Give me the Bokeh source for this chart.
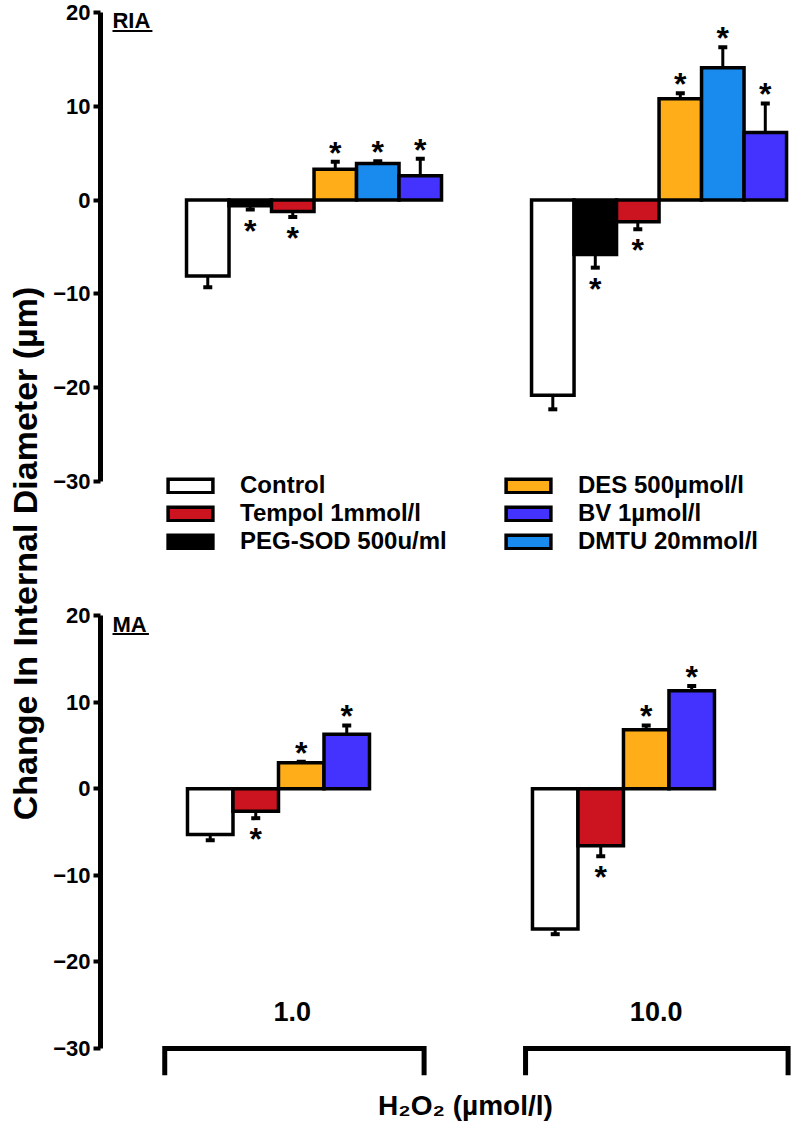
import math
from bokeh.plotting import figure
from bokeh.models import (Range1d, FixedTicker, Legend, LegendItem, Label,
                          BoxAnnotation, ColumnDataSource)
from bokeh.layouts import row, column
from bokeh.embed import file_html
from bokeh.resources import INLINE
from bokeh.core.properties import value

# ---------------- data ----------------
doses = ["1.0", "10.0"]

ria_treatments = ["Control", "PEG-SOD 500u/ml", "Tempol 1mmol/l",
                  "DES 500µmol/l", "DMTU 20mmol/l", "BV 1µmol/l"]
ria_mean_1 = [-8.1, -0.6, -1.2, 3.3, 3.9, 2.6]
ria_sem_1 = [1.2, 0.4, 0.6, 0.8, 0.25, 1.8]
ria_mean_10 = [-20.8, -5.8, -2.3, 10.8, 14.1, 7.2]
ria_sem_10 = [1.5, 1.4, 0.8, 0.6, 2.2, 3.1]
ria_sig_1 = [False, True, True, True, True, True]
ria_sig_10 = [False, True, True, True, True, True]

ma_treatments = ["Control", "Tempol 1mmol/l", "DES 500µmol/l", "BV 1µmol/l"]
ma_mean_1 = [-5.3, -2.6, 3.0, 6.3]
ma_sem_1 = [0.65, 0.8, 0.1, 1.0]
ma_mean_10 = [-16.2, -6.6, 6.8, 11.3]
ma_sem_10 = [0.6, 1.2, 0.5, 0.55]
ma_sig_1 = [False, True, True, True]
ma_sig_10 = [False, True, True, True]

legend_col1 = ["Control", "Tempol 1mmol/l", "PEG-SOD 500u/ml"]
legend_col2 = ["DES 500µmol/l", "BV 1µmol/l", "DMTU 20mmol/l"]

y_ticks = [-30, -20, -10, 0, 10, 20]
y_title = "Change In Internal Diameter (µm)"
x_title = "H₂O₂ (µmol/l)"

# ---------------- style ----------------
FONT = "Liberation Sans"
COLORS = {
    "Control": "#FFFFFF",
    "Tempol 1mmol/l": "#CC1420",
    "PEG-SOD 500u/ml": "#000000",
    "DES 500µmol/l": "#FFAE1A",
    "DMTU 20mmol/l": "#198BEF",
    "BV 1µmol/l": "#4433FF",
}

TITLE_W = 48
FIG_W = 744
LEFT_BORDER = 52
TOP_H = 568
BOT_H = 560

# top panel scales (x unit = one bar slot)
TOP_X = (-2.024, 14.258)
TOP_Y = (-39.27, 21.28)
TOP_STEP = 8.118
# bottom panel scales
BOT_X = (-1.912, 13.297)
BOT_Y = (-39.24, 25.43)
BOT_STEP = 7.582


def make_fig(h, xr, yr):
    p = figure(width=FIG_W, height=h, x_range=Range1d(*xr), y_range=Range1d(*yr),
               x_axis_type=None, output_backend="svg", toolbar_location=None,
               min_border_left=LEFT_BORDER, min_border_right=0,
               min_border_top=0, min_border_bottom=0)
    p.outline_line_color = None
    p.ygrid.visible = False
    ax = p.yaxis[0]
    ax.ticker = FixedTicker(ticks=y_ticks)
    ax.bounds = (-30, 20)
    ax.axis_line_width = 5
    ax.axis_line_color = "black"
    ax.major_tick_line_width = 4
    ax.major_tick_line_color = "black"
    ax.major_tick_out = 7
    ax.major_tick_in = 0
    ax.minor_tick_out = 0
    ax.minor_tick_in = 0
    ax.major_label_text_font = FONT
    ax.major_label_text_font_style = "bold"
    ax.major_label_text_font_size = "22px"
    ax.major_label_text_color = "black"
    ax.major_label_standoff = 3
    return p


def draw_panel(p, treatments, means, sems, sigs, step):
    n_d = len(means)
    ex, e0, e1, sx, sy, soff = [], [], [], [], [], []
    for g in range(n_d):
        for i in range(len(treatments)):
            x = g * step + i + 0.5
            m = means[g][i]
            s = sems[g][i]
            sign = 1 if m >= 0 else -1
            ex.append(x)
            e0.append(m)
            e1.append(m + sign * s)
            if sigs[g][i]:
                sx.append(x)
                sy.append(m + sign * s)
                soff.append(-9 if sign > 0 else 21)
    p.segment(x0=ex, y0=e0, x1=ex, y1=e1, line_color="black", line_width=3)
    p.scatter(x=ex, y=e1, marker="dash", size=9, line_width=4, line_color="black")
    rends = {}
    for i, t in enumerate(treatments):
        src = ColumnDataSource(dict(
            x=[g * step + i + 0.5 for g in range(n_d)],
            top=[means[g][i] for g in range(n_d)],
        ))
        rends[t] = p.vbar(x="x", top="top", bottom=0, width=1.0, source=src,
                          fill_color=COLORS[t], line_color="black", line_width=3.5,
                          line_join="miter")
    p.text(x=sx, y=sy, text=["*"] * len(sx), y_offset=soff,
           text_align="center", text_baseline="alphabetic",
           text_font=value(FONT), text_font_style="bold",
           text_font_size="32px", text_color="black")
    return rends


def panel_tag(p, text, x, w, yc, ul_top, ul_bot):
    p.add_layout(Label(x=x, y=yc, text=text, text_font=FONT, text_font_style="bold",
                       text_font_size="22px", text_align="left",
                       text_baseline="middle", text_color="black"))
    p.add_layout(BoxAnnotation(left=x, right=x + w, top=ul_top, bottom=ul_bot,
                               fill_color="black", fill_alpha=1, line_color=None))


# ---------------- top panel (RIA) ----------------
top = make_fig(TOP_H, TOP_X, TOP_Y)
rends_top = draw_panel(top, ria_treatments,
                       [ria_mean_1, ria_mean_10], [ria_sem_1, ria_sem_10],
                       [ria_sig_1, ria_sig_10], TOP_STEP)
panel_tag(top, "RIA", -1.742, 0.94, 19.2, 18.135, 17.92)

for cols, loc in ((legend_col1, (62, 13)), (legend_col2, (400, 13))):
    items = [LegendItem(label=t, renderers=[rends_top[t]]) for t in cols]
    lg = Legend(items=items, location=loc, orientation="vertical",
                glyph_width=56, glyph_height=17, label_standoff=22, spacing=0,
                padding=0, margin=0, background_fill_alpha=0, border_line_alpha=0,
                label_text_font=FONT, label_text_font_style="bold",
                label_text_font_size="24px", label_text_color="black")
    top.add_layout(lg)

# ---------------- bottom panel (MA) ----------------
bot = make_fig(BOT_H, BOT_X, BOT_Y)
draw_panel(bot, ma_treatments,
           [ma_mean_1, ma_mean_10], [ma_sem_1, ma_sem_10],
           [ma_sig_1, ma_sig_10], BOT_STEP)
panel_tag(bot, "MA", -1.648, 0.8, 18.96, 17.98, 17.75)

# dose brackets and labels
BRACKETS = [(-0.5, 5.2), (7.43, 13.2)]
DOSE_LABEL_X = [2.3, 10.3]
bx = [[a, a, b, b] for a, b in BRACKETS]
by = [[-33.1, -30, -30, -33.1] for _ in BRACKETS]
bot.multi_line(xs=bx, ys=by, line_color="black", line_width=5, line_join="miter")
bot.text(x=DOSE_LABEL_X, y=[-25.7] * len(doses), text=doses, text_align="center",
         text_baseline="middle", text_font=value(FONT), text_font_style="bold",
         text_font_size="27px", text_color="black")
bot.add_layout(Label(x=6.11, y=-36.6, text=x_title, text_font=FONT,
                     text_font_style="bold", text_font_size="28px",
                     text_align="center", text_baseline="middle", text_color="black"))

# ---------------- y title strip ----------------
H_ALL = TOP_H + BOT_H
ttl = figure(width=TITLE_W, height=H_ALL, x_range=Range1d(0, TITLE_W),
             y_range=Range1d(0, H_ALL), x_axis_type=None, y_axis_type=None,
             output_backend="svg", toolbar_location=None, min_border=0)
ttl.outline_line_color = None
ttl.add_layout(Label(x=24, y=H_ALL - 553, text=y_title, angle=math.pi / 2,
                     text_font=FONT, text_font_style="bold", text_font_size="34px",
                     text_align="center", text_baseline="middle", text_color="black"))

layout = row(ttl, column(top, bot))
open("out.html", "w").write(file_html(layout, INLINE))
